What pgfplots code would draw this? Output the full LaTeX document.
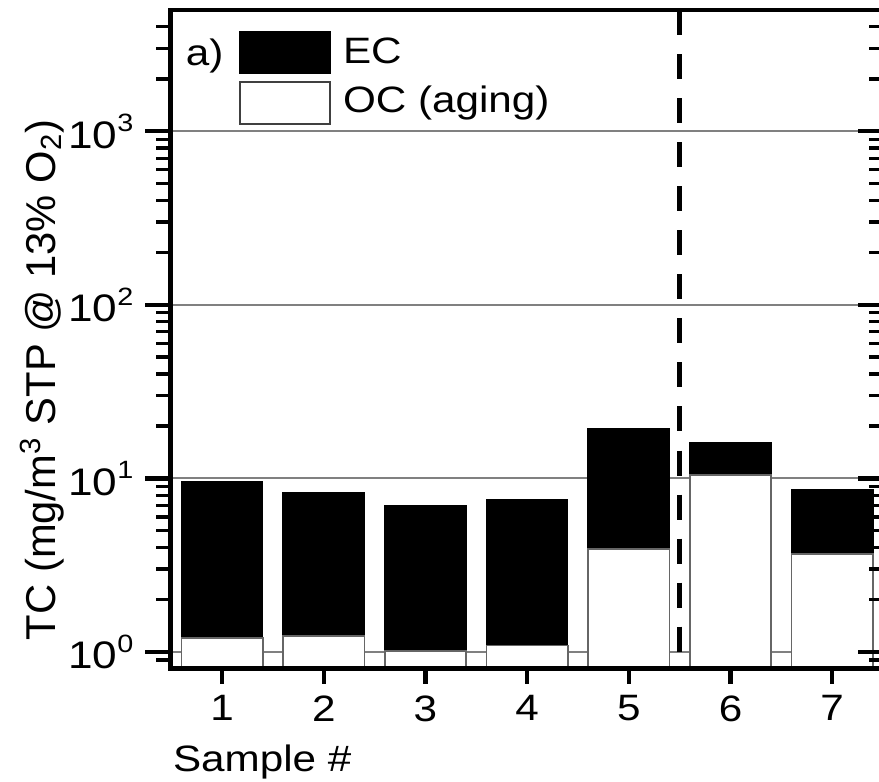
\documentclass[border=0pt]{standalone}
\usepackage{pgfplots}
\pgfplotsset{compat=1.18}
\usepackage{fontspec}
\setmainfont{Liberation Sans}[FakeStretch=1.15]
\newfontfamily\labfont{Liberation Sans}
\newcommand{\tl}[1]{10\raisebox{5pt}{\fontsize{7.5}{7.5}\selectfont #1}}

\begin{document}
\begin{tikzpicture}
\begin{axis}[
  width=213.6pt, height=197.4pt, scale only axis,
  xmin=0.49, xmax=7.5, ymode=log, ymin=0.8, ymax=5000,
  log origin=infty,
  major tick length=7.5pt, minor tick length=4.2pt,
  every major tick/.append style={line width=1.3pt, black},
  every minor tick/.append style={line width=1.0pt, black},
  axis line style={draw=none},
  xtick=\empty,
  ytick={1,10,100,1000},
  yticklabels={\tl{0},\tl{1},\tl{2},\tl{3}},
  minor ytick={0.9,2,3,4,5,6,7,8,9,20,30,40,50,60,70,80,90,200,300,400,500,600,700,800,900,2000,3000,4000},
  ytick pos=left, tick align=outside,
  yticklabel style={font=\fontsize{11.5}{14}\selectfont},
  ymajorgrids, major grid style={gray, line width=0.6pt},
  ylabel={TC (mg/m\textsuperscript{3} STP @ 13\% O\textsubscript{2})},
  ylabel style={at={(axis description cs:-0.1615,0.0426)}, anchor=base west, inner sep=0pt, font=\labfont\fontsize{12.5}{15}\selectfont},
  legend style={at={(axis description cs:0.0955,0.9696)}, anchor=north west, draw=none, fill=none, inner sep=0pt, row sep=2.1pt, column sep=3.7pt, nodes={inner sep=0pt}, font=\fontsize{11}{13}\selectfont},
  legend cell align=left,
]
\addplot[ybar, bar width=0.8, bar shift=0pt, fill=black, draw=black, line width=0.4pt,
  legend image code/.code={\draw[fill=black, draw=black] (0pt,-6pt) rectangle (27pt,6.6pt);}]
  coordinates {(1,9.53) (2,8.24) (3,6.93) (4,7.5) (5,19.3) (6,16.0) (7,8.57)};
\addlegendentry{EC}
\addplot[ybar, bar width=0.8, bar shift=0pt, fill=white, draw=black!60, line width=0.5pt,
  legend image code/.code={\draw[fill=white, draw=black!75, line width=0.5pt] (0pt,-6.8pt) rectangle (27pt,5.8pt);}]
  coordinates {(1,1.20) (2,1.24) (3,1.01) (4,1.09) (5,3.91) (6,10.46) (7,3.66)};
\addlegendentry{OC (aging)}
\addplot[black, line width=1.4pt, dash pattern=on 7.5pt off 5.7pt, forget plot] coordinates {(5.5,5000) (5.5,0.8)};
\node[anchor=base west, inner sep=0pt, font=\fontsize{11}{13}\selectfont] at (axis description cs:0.021,0.9164) {a)};
\end{axis}
\begin{axis}[
  width=213.6pt, height=197.4pt, scale only axis,
  xmin=0.49, xmax=7.5, ymode=log, ymin=0.8, ymax=5000,
  every major tick/.append style={line width=1.3pt, black},
  axis line style={line width=1.4pt, black},
  xtick={1,2,3,4,5,6,7}, xticklabels={1,2,3,4,5,6,7},
  xtick pos=bottom, tick align=outside, major tick length=4.5pt,
  ytick=\empty,
  xticklabel style={font=\fontsize{11}{13}\selectfont},
  xlabel={Sample \#},
  xlabel style={at={(axis description cs:0.003,-0.114)}, anchor=north west, inner sep=0pt, font=\fontsize{11}{13}\selectfont},
]
\end{axis}
\begin{axis}[
  width=213.6pt, height=197.4pt, scale only axis,
  xmin=0.49, xmax=7.5, ymode=log, ymin=0.8, ymax=5000,
  major tick length=7.5pt, minor tick length=4.2pt,
  every major tick/.append style={line width=1.3pt, black},
  every minor tick/.append style={line width=1.0pt, black},
  axis line style={draw=none},
  xtick=\empty,
  ytick={1,10,100,1000}, yticklabels={},
  minor ytick={0.9,2,3,4,5,6,7,8,9,20,30,40,50,60,70,80,90,200,300,400,500,600,700,800,900,2000,3000,4000},
  ytick pos=right, tick align=inside,
]
\end{axis}
\pgfresetboundingbox
\path ([shift={(-51pt,-33.9pt)}]current axis.south west) rectangle ([shift={(-1.2pt,3pt)}]current axis.north east);
\end{tikzpicture}
\end{document}
